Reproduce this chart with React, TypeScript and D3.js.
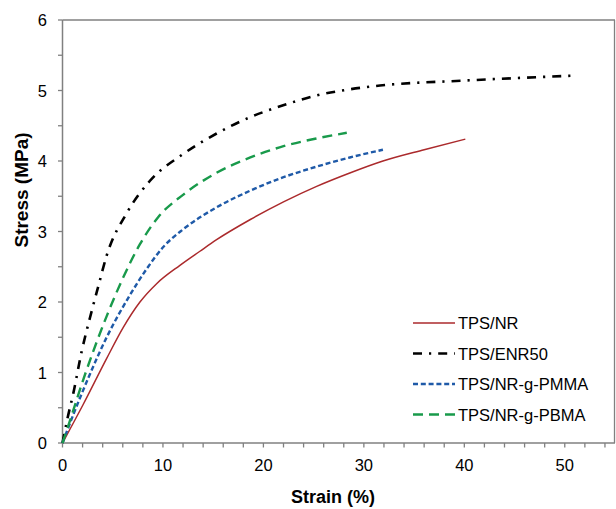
import React from "react";
import * as d3 from "d3";

const nrStrain = [0, 2.07, 4.4, 6.05, 7.71, 9.37, 11.69, 13.68, 15.3, 18.7, 22.0, 25.3, 28.6, 31.9, 36, 40.1];
const nrStress = [0, 0.55, 1.2, 1.64, 2.0, 2.26, 2.52, 2.72, 2.88, 3.17, 3.42, 3.64, 3.83, 4.0, 4.16, 4.31];

const enrStrain = [0, 0.5, 1.07, 1.91, 2.74, 3.56, 4.4, 6.39, 8.71, 12.02, 15.34, 18.66, 21.97, 25.29, 28.28, 31.6, 39.9, 45, 50.8];
const enrStress = [0, 0.35, 0.7, 1.3, 1.78, 2.22, 2.66, 3.26, 3.72, 4.1, 4.39, 4.62, 4.79, 4.93, 5.01, 5.07, 5.14, 5.175, 5.21];

const pmmaStrain = [0, 1.07, 2.74, 4.4, 6.72, 8.38, 10.03, 12.0, 15.3, 18.7, 22.0, 25.3, 28.6, 31.9];
const pmmaStress = [0, 0.4, 0.98, 1.5, 2.1, 2.47, 2.78, 3.03, 3.34, 3.58, 3.77, 3.92, 4.05, 4.16];

const pbmaStrain = [0, 0.75, 2.07, 4.4, 6.05, 7.71, 9.5, 12.0, 15.3, 18.7, 22.0, 25.3, 28.3];
const pbmaStress = [0, 0.32, 0.9, 1.8, 2.35, 2.82, 3.2, 3.52, 3.83, 4.05, 4.21, 4.32, 4.4];

const seriesNames = ["TPS/NR", "TPS/ENR50", "TPS/NR-g-PMMA", "TPS/NR-g-PBMA"];
const xTickLabels = [0, 10, 20, 30, 40, 50];
const yTickLabels = [0, 1, 2, 3, 4, 5, 6];

const W = 616;
const H = 509;
const FONT = "'Liberation Sans', Arial, sans-serif";
const AXIS = "#808080";

export default function App() {
  const x = d3.scaleLinear().domain([0, 55]).range([62.5, 615]);
  const y = d3.scaleLinear().domain([0, 6]).range([443, 20]);

  const line = d3
    .line<[number, number]>()
    .x((d) => x(d[0]))
    .y((d) => y(d[1]))
    .curve(d3.curveMonotoneX);

  const zip = (a: number[], b: number[]) => a.map((v, i) => [v, b[i]] as [number, number]);

  const series = [
    { name: seriesNames[0], data: zip(nrStrain, nrStress), color: "#ab2a2c", width: 1.5, dash: "none" },
    { name: seriesNames[1], data: zip(enrStrain, enrStress), color: "#000000", width: 2.6, dash: "9,7,2.2,7" },
    { name: seriesNames[2], data: zip(pmmaStrain, pmmaStress), color: "#1f5aa8", width: 2.4, dash: "5,2.8" },
    { name: seriesNames[3], data: zip(pbmaStrain, pbmaStress), color: "#199a4b", width: 2.4, dash: "10,6" },
  ];

  const xMinor = d3.range(0, 55, 2);
  const yMinor = d3.range(0, 6.01, 0.5);

  const legendX0 = 413;
  const legendX1 = 455;
  const legendY = [323, 353.5, 384, 414.5];

  return (
    <svg width={W} height={H} style={{ position: "absolute", left: 0, top: 0, background: "#fff" }}>
      <rect x={0} y={0} width={W} height={H} fill="#fff" />
      <line x1={x(0)} x2={x(55)} y1={y(6)} y2={y(6)} stroke={AXIS} strokeWidth={1.3} />
      <line x1={x(55) - 0.5} x2={x(55) - 0.5} y1={y(6)} y2={y(0)} stroke={AXIS} strokeWidth={1.3} />
      <line x1={x(0)} x2={x(55)} y1={y(0)} y2={y(0)} stroke={AXIS} strokeWidth={1.5} />
      <line x1={x(0)} x2={x(0)} y1={y(0)} y2={y(6)} stroke={AXIS} strokeWidth={1.5} />
      {xMinor.map((t) => (
        <line key={"xt" + t} x1={x(t)} x2={x(t)} y1={y(0)} y2={y(0) + 4.5} stroke={AXIS} strokeWidth={1.3} />
      ))}
      {yMinor.map((t) => (
        <line key={"yt" + t} x1={x(0) - 4.5} x2={x(0)} y1={y(t)} y2={y(t)} stroke={AXIS} strokeWidth={1.3} />
      ))}
      {xTickLabels.map((t) => (
        <text key={"xl" + t} x={x(t)} y={471} textAnchor="middle" fontFamily={FONT} fontSize={16.5} fill="#000">
          {t}
        </text>
      ))}
      {yTickLabels.map((t) => (
        <text key={"yl" + t} x={47} y={y(t) + 6} textAnchor="end" fontFamily={FONT} fontSize={16.5} fill="#000">
          {t}
        </text>
      ))}
      <text
        transform={`translate(28,190) rotate(-90)`}
        textAnchor="middle"
        fontFamily={FONT}
        fontSize={19}
        fontWeight="bold"
        fill="#000"
      >
        Stress (MPa)
      </text>
      <text x={333} y={503} textAnchor="middle" fontFamily={FONT} fontSize={18} fontWeight="bold" fill="#000">
        Strain (%)
      </text>
      {series.map((s) => (
        <path
          key={s.name}
          d={line(s.data) || ""}
          fill="none"
          stroke={s.color}
          strokeWidth={s.width}
          strokeDasharray={s.dash}
        />
      ))}
      {series.map((s, i) => (
        <g key={"lg" + s.name}>
          <line
            x1={legendX0}
            x2={legendX1}
            y1={legendY[i]}
            y2={legendY[i]}
            stroke={s.color}
            strokeWidth={s.width}
            strokeDasharray={s.dash}
          />
          <text x={legendX1 + 3} y={legendY[i] + 6} fontFamily={FONT} fontSize={16.5} fill="#000">
            {s.name}
          </text>
        </g>
      ))}
    </svg>
  );
}
